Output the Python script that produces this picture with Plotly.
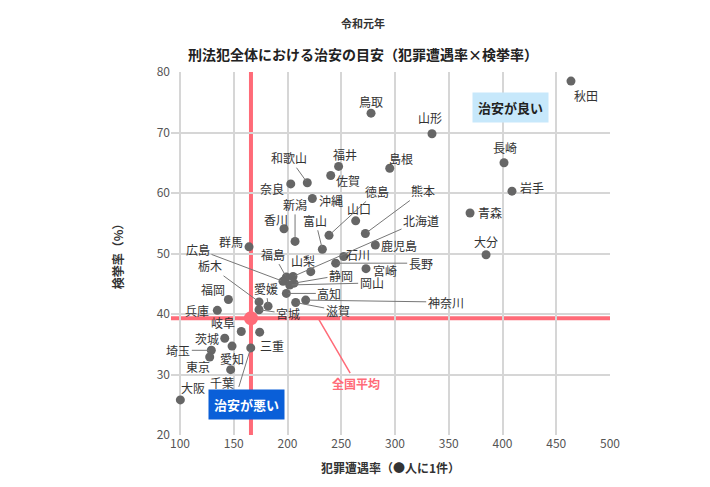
import plotly.graph_objects as go

prefs = ["秋田","鳥取","山形","長崎","岩手","青森","大分","福井","島根","和歌山","佐賀","奈良","沖縄",
         "山口","香川","新潟","徳島","熊本","富山","鹿児島","群馬","石川","長野","宮崎","山梨",
         "福島","北海道","広島","静岡","岡山","高知","神奈川","滋賀","栃木","宮城","愛媛","福岡","兵庫",
         "岐阜","三重","茨城","愛知","埼玉","東京","京都","千葉","大阪"]
crime_rate = [463.7,277.7,334.4,401.4,408.8,369.8,384.7,247.5,295.1,218.4,240.2,203.0,223.1,
              263.4,196.7,207.0,238.6,272.4,232.4,281.7,164.2,252.3,244.8,273.0,221.6,
              198.9,205.1,195.8,206.0,202.0,198.9,216.9,207.6,173.5,173.5,181.9,145.0,134.7,
              157.0,174.1,141.6,148.4,129.1,127.6,165.8,147.1,100.3]
arrest_rate = [78.5,73.2,69.8,65.0,60.3,56.7,49.8,64.4,64.1,61.7,62.9,61.5,59.1,
               55.4,54.1,52.0,53.0,53.3,50.7,51.4,51.1,49.5,48.4,47.5,47.0,
               46.1,46.2,45.4,45.1,44.8,43.4,42.3,41.9,42.0,40.7,41.3,42.4,40.6,
               37.1,37.0,36.0,34.7,34.0,32.9,34.4,30.8,25.8]
avg_crime = 166.0
avg_arrest = 39.3

# label offsets in screen px (dx, dy down-positive)
plain = {"秋田":(15,14),"鳥取":(0,-12),"山形":(-2,-16),"長崎":(1,-15),"岩手":(20,-4),"青森":(20,0),
         "大分":(0,-13),"福井":(6,-12),"島根":(11,-10),"佐賀":(17,5),"奈良":(-19,5),"沖縄":(19,2),
         "香川":(-8,-9),"山口":(3,-12),"鹿児島":(24,0),"群馬":(-18,-5),"石川":(14,-2),"宮崎":(19,2),
         "山梨":(-8,-11),"福岡":(-15,-10),"兵庫":(-20,0),"岐阜":(-18,-9),"三重":(12,13),"茨城":(-18,0),
         "東京":(-12,10),"愛知":(0,12),"千葉":(-9,13),"大阪":(13,-12)}
leader = {"和歌山":(-18,-25),"新潟":(0,-37),"富山":(-7,-29),"徳島":(48,-44),"熊本":(58,-43),
          "北海道":(128,-56),"長野":(85,0),"福島":(-13,-23),"広島":(-85,-32),"静岡":(47,-8),
          "岡山":(82,-2),"高知":(43,0),"愛媛":(-2,-18),"栃木":(-49,-36),"宮城":(29,4),
          "神奈川":(140,2),"滋賀":(42,8),"埼玉":(-33,0),"京都":(-15,49)}

FONT = "Noto Sans CJK JP"
RED = "#ff6b78"
fig = go.Figure()
fig.add_shape(type="line", x0=avg_crime, x1=avg_crime, y0=0, y1=1, yref="paper",
              line=dict(color=RED, width=4), layer="below")
fig.add_shape(type="line", x0=0, x1=1, xref="paper", y0=avg_arrest, y1=avg_arrest,
              line=dict(color=RED, width=4), layer="below")
fig.add_trace(go.Scatter(x=crime_rate, y=arrest_rate, mode="markers",
                         marker=dict(color="#666666", size=9), hoverinfo="text", text=prefs))
fig.add_trace(go.Scatter(x=[avg_crime], y=[avg_arrest], mode="markers",
                         marker=dict(color=RED, size=14), hoverinfo="skip"))

anns = []
for n, x, y in zip(prefs, crime_rate, arrest_rate):
    if n in plain:
        dx, dy = plain[n]
        anns.append(dict(x=x, y=y, text=n, showarrow=False, xshift=dx, yshift=-dy,
                         font=dict(size=12, color="#333")))
    else:
        dx, dy = leader[n]
        anns.append(dict(x=x, y=y, text=n, showarrow=True, ax=dx, ay=dy, arrowhead=0,
                         arrowwidth=1, arrowcolor="#777", standoff=2,
                         font=dict(size=12, color="#333")))
anns.append(dict(x=228.4, y=avg_arrest, text="<b>全国平均</b>", showarrow=True, ax=38, ay=65,
                 arrowhead=0, arrowwidth=1.5, arrowcolor=RED, font=dict(size=12, color=RED)))
anns.append(dict(x=0.86, y=0.945, xref="paper", yref="paper", text="<b>治安が良い</b>", showarrow=False,
                 bgcolor="#c7e8fb", borderpad=5, font=dict(size=13, color="#222")))
anns.append(dict(x=0.085, y=0.04, xref="paper", yref="paper", text="<b>治安が悪い</b>", showarrow=False,
                 bgcolor="#0a5fd8", borderpad=5, font=dict(size=13, color="white")))
anns.append(dict(x=0.437, y=1.135, xref="paper", yref="paper", yanchor="middle", text="<b>令和元年</b>",
                 showarrow=False, font=dict(size=11, color="#333")))
anns.append(dict(x=0.437, y=1.049, xref="paper", yref="paper", yanchor="middle",
                 text="<b>刑法犯全体における治安の目安（犯罪遭遇率×検挙率）</b>",
                 showarrow=False, font=dict(size=14, color="#222")))

fig.update_layout(
    width=710, height=487, margin=dict(l=163, r=108, t=64, b=60),
    plot_bgcolor="white", paper_bgcolor="white", showlegend=False,
    font=dict(family=FONT, size=12, color="#444"),
    annotations=anns,
    xaxis=dict(range=[91.6, 500], tickvals=[100,150,200,250,300,350,400,450,500], showgrid=True,
               gridcolor="#d6d6d6", gridwidth=1.5, zeroline=False, ticks="", tickfont=dict(size=12, color="#555"),
               title=dict(text="<b>犯罪遭遇率（●人に1件）</b>", font=dict(size=12, color="#333"), standoff=14)),
    yaxis=dict(range=[20, 80], dtick=10, showgrid=True, gridcolor="#d6d6d6", gridwidth=1.5,
               zeroline=False, ticks="", tickfont=dict(size=12, color="#555"),
               title=dict(text="<b>検挙率（%）</b>", font=dict(size=12, color="#333"), standoff=30)),
)
fig.write_html("out.html")
